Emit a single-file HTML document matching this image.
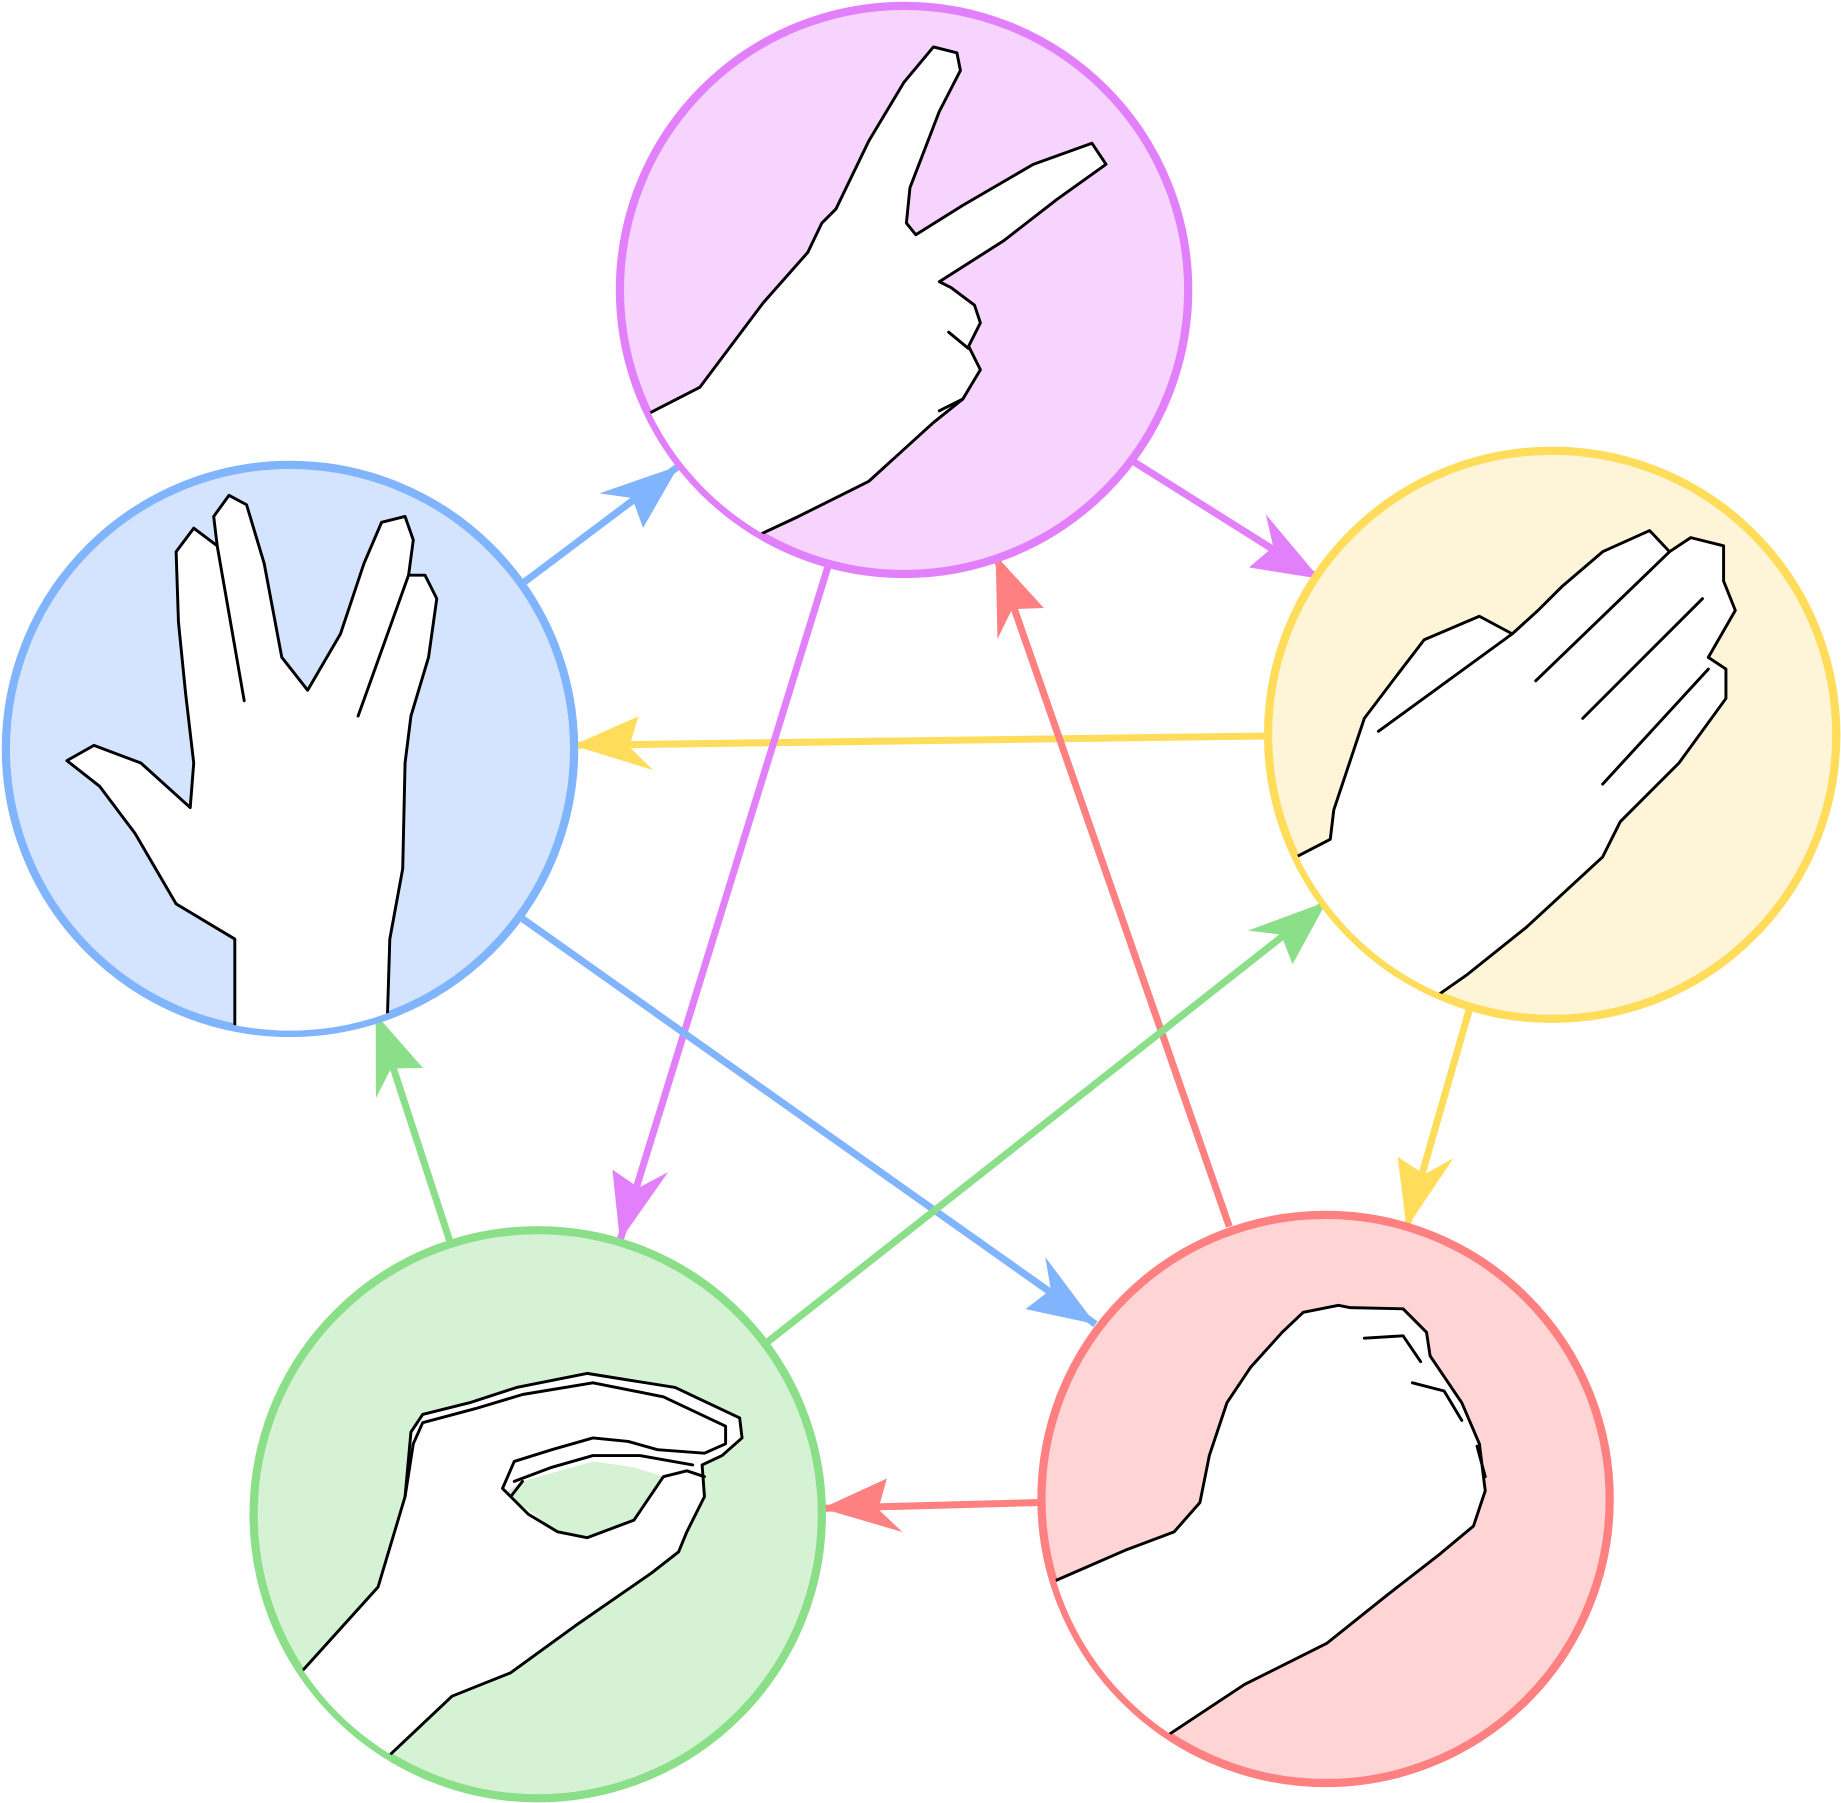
<!DOCTYPE html>
<html><head><meta charset="utf-8"><style>html,body{margin:0;padding:0;background:#fff}svg{display:block}</style></head>
<body>
<svg width="1841" height="1803" viewBox="0 0 1568 1536" preserveAspectRatio="none" xmlns="http://www.w3.org/2000/svg">
<defs>
<clipPath id="cp"><circle cx="770" cy="247" r="240"/></clipPath>
<clipPath id="cb"><circle cx="247" cy="638" r="240"/></clipPath>
<clipPath id="cy"><circle cx="1322" cy="626" r="240"/></clipPath>
<clipPath id="cr"><circle cx="1129" cy="1277" r="240"/></clipPath>
<clipPath id="cg"><circle cx="458" cy="1290" r="240"/></clipPath>
<marker id="mb" markerWidth="80" markerHeight="80" refX="0" refY="0" viewBox="-75 -40 80 80" orient="auto" markerUnits="userSpaceOnUse"><path d="M0,0 L-68,-22 L-48,-2 L-56,24 Z" fill="#80b4fd"/></marker>
<marker id="mp" markerWidth="80" markerHeight="80" refX="0" refY="0" viewBox="-75 -40 80 80" orient="auto" markerUnits="userSpaceOnUse"><path d="M0,0 L-68,-22 L-48,-2 L-56,24 Z" fill="#e280fb"/></marker>
<marker id="my" markerWidth="80" markerHeight="80" refX="0" refY="0" viewBox="-75 -40 80 80" orient="auto" markerUnits="userSpaceOnUse"><path d="M0,0 L-68,-22 L-48,-2 L-56,24 Z" fill="#ffdd5a"/></marker>
<marker id="mr" markerWidth="80" markerHeight="80" refX="0" refY="0" viewBox="-75 -40 80 80" orient="auto" markerUnits="userSpaceOnUse"><path d="M0,0 L-68,-22 L-48,-2 L-56,24 Z" fill="#ff8080"/></marker>
<marker id="mg" markerWidth="80" markerHeight="80" refX="0" refY="0" viewBox="-75 -40 80 80" orient="auto" markerUnits="userSpaceOnUse"><path d="M0,0 L-68,-22 L-48,-2 L-56,24 Z" fill="#8adf88"/></marker>
</defs>
<g stroke-width="6" fill="none">
<line x1="445" y1="497" x2="578" y2="397" stroke="#80b4fd" marker-end="url(#mb)"/>
<line x1="965" y1="393" x2="1124" y2="493" stroke="#e280fb" marker-end="url(#mp)"/>
<line x1="1078" y1="627" x2="488" y2="635" stroke="#ffdd5a" marker-end="url(#my)"/>
<line x1="1252" y1="858" x2="1198" y2="1046" stroke="#ffdd5a" marker-end="url(#my)"/>
<line x1="1047" y1="1045" x2="848" y2="473" stroke="#ff8080" marker-end="url(#mr)"/>
<line x1="706" y1="480" x2="528" y2="1057" stroke="#e280fb" marker-end="url(#mp)"/>
<line x1="444" y1="782" x2="933" y2="1128" stroke="#80b4fd" marker-end="url(#mb)"/>
<line x1="654" y1="1143" x2="1130" y2="768" stroke="#8adf88" marker-end="url(#mg)"/>
<line x1="383" y1="1057" x2="320" y2="864" stroke="#8adf88" marker-end="url(#mg)"/>
<line x1="886" y1="1280" x2="700" y2="1285" stroke="#ff8080" marker-end="url(#mr)"/>
</g>
<g stroke-width="7">
<circle cx="770" cy="247" r="242" fill="#f6d4fe" stroke="#e280fb"/>
<circle cx="1322" cy="626" r="242" fill="#fef5d8" stroke="#ffdd5a"/>
<circle cx="247" cy="638" r="242" fill="#d4e4fe" stroke="#80b4fd"/>
<circle cx="458" cy="1290" r="242" fill="#d6f2d5" stroke="#8adf88"/>
<circle cx="1129" cy="1277" r="242" fill="#fed4d4" stroke="#ff8080"/>
</g>
<g stroke="#000" stroke-width="2.5" stroke-linejoin="round" stroke-linecap="round">
<g clip-path="url(#cp)">
<path fill="#fff" stroke="none" d="M553,352 L596,330 L650,258 L688,215 L700,190 L712,178 L740,120 L770,70 L795,40 L815,45 L818,60 L800,95 L775,160 L772,190 L780,200 L820,175 L880,140 L930,122 L942,140 L900,170 L855,205 L800,240 L810,245 L830,260 L835,275 L825,295 L835,315 L820,340 L795,360 L740,410 L680,440 L648,455 L640,500 L500,500 L500,352 Z"/>
<path fill="none" d="M553,352 L596,330 L650,258 L688,215 L700,190 L712,178 L740,120 L770,70 L795,40 L815,45 L818,60 L800,95 L775,160 L772,190 L780,200 L820,175 L880,140 L930,122 L942,140 L900,170 L855,205 L800,240 L810,245 L830,260 L835,275 L825,295 L835,315 L820,340 L795,360 L740,410 L680,440 L648,455"/>
<path fill="none" d="M808,283 L825,297 M800,350 L820,340"/>
</g>
<g clip-path="url(#cb)">
<path fill="#fff" stroke="none" d="M200,900 L200,800 L150,770 L115,710 L85,670 L57,648 L80,635 L120,650 L162,688 L165,650 L158,590 L152,530 L150,470 L165,450 L185,465 L182,440 L195,422 L210,430 L225,480 L240,560 L262,588 L290,540 L310,480 L325,445 L345,440 L352,460 L348,490 L362,490 L372,510 L365,560 L350,610 L345,650 L343,740 L332,800 L330,900 Z"/>
<path fill="none" d="M200,875 L200,800 L150,770 L115,710 L85,670 L57,648 L80,635 L120,650 L162,688 L165,650 L158,590 L152,530 L150,470 L165,450 L185,465 L182,440 L195,422 L210,430 L225,480 L240,560 L262,588 L290,540 L310,480 L325,445 L345,440 L352,460 L348,490 L362,490 L372,510 L365,560 L350,610 L345,650 L343,740 L332,800 L330,865 M185,465 L208,597 M348,490 L305,610"/>
</g>
<g clip-path="url(#cy)">
<path fill="#fff" stroke="none" d="M1104,730 L1133,715 L1136,690 L1162,612 L1190,575 L1213,545 L1260,525 L1288,540 L1310,520 L1330,500 L1365,470 L1405,452 L1422,470 L1440,458 L1468,465 L1468,495 L1478,520 L1455,560 L1470,570 L1470,595 L1430,650 L1380,700 L1365,730 L1300,790 L1250,830 L1210,858 L1200,900 L1050,900 L1050,740 Z"/>
<path fill="none" d="M1104,730 L1133,715 L1136,690 L1162,612 L1190,575 L1213,545 L1260,525 L1288,540 L1310,520 L1330,500 L1365,470 L1405,452 L1422,470 L1440,458 L1468,465 L1468,495 L1478,520 L1455,560 L1470,570 L1470,595 L1430,650 L1380,700 L1365,730 L1300,790 L1250,830 L1210,858 M1174,623 L1288,540 M1308,580 L1422,470 M1348,612 L1450,510 M1365,668 L1455,570"/>
</g>
<g clip-path="url(#cr)">
<path fill="#fff" stroke="none" d="M898,1347 L960,1320 L1000,1305 L1022,1280 L1030,1240 L1045,1195 L1065,1165 L1092,1135 L1110,1118 L1140,1112 L1150,1114 L1195,1115 L1215,1135 L1218,1155 L1245,1195 L1260,1230 L1265,1270 L1255,1300 L1225,1325 L1180,1360 L1130,1400 L1060,1435 L995,1478 L980,1530 L860,1530 L860,1360 Z"/>
<path fill="none" d="M898,1347 L960,1320 L1000,1305 L1022,1280 L1030,1240 L1045,1195 L1065,1165 L1092,1135 L1110,1118 L1140,1112 L1150,1114 L1195,1115 L1215,1135 L1218,1155 L1245,1195 L1260,1230 L1265,1270 L1255,1300 L1225,1325 L1180,1360 L1130,1400 L1060,1435 L995,1478 M1162,1140 L1195,1138 L1210,1160 M1203,1178 L1230,1185 L1245,1210 M1258,1232 L1265,1258"/>
</g>
<g clip-path="url(#cg)">
<path fill="#fff" stroke="none" d="M257,1424 L322,1352 L345,1275 L350,1220 L360,1205 L400,1195 L440,1182 L500,1170 L575,1182 L630,1208 L632,1225 L615,1240 L598,1248 L600,1275 L585,1305 L578,1322 L555,1340 L490,1385 L435,1425 L385,1445 L330,1497 L300,1540 L200,1540 L200,1430 Z"/>
<path fill="#d6f2d5" stroke="none" d="M430,1272 L475,1305 L500,1310 L540,1295 L565,1258 L540,1250 L505,1245 L445,1262 Z"/>
<path fill="none" d="M257,1424 L322,1352 L345,1275 L350,1220 L360,1205 L400,1195 L440,1182 L500,1170 L575,1182 L630,1208 L632,1225 L615,1240 L598,1248 L600,1275 L585,1305 L578,1322 L555,1340 L490,1385 L435,1425 L385,1445 L330,1497"/>
<path fill="none" d="M345,1275 L352,1230 L360,1212 L405,1200 L445,1188 L505,1178 L565,1190 L618,1215 L618,1230 L600,1238 L560,1235 L535,1228 L505,1225 L470,1235 L438,1245 L428,1268 L450,1290 L475,1305 L500,1310 L540,1295 L565,1258 L585,1253 L600,1258 M438,1262 L470,1250 L505,1240 L545,1240 L590,1248 M435,1275 L445,1262"/>
</g>
</g>
</svg>
</body></html>
